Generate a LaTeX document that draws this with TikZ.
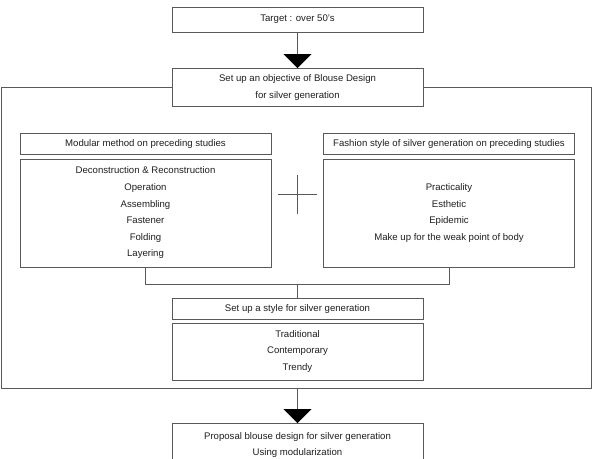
\documentclass[tikz,border=0pt]{standalone}
\usepackage{fontspec}
\setmainfont{Liberation Sans}
\usetikzlibrary{arrows.meta}
\definecolor{linegray}{gray}{0.35}
\definecolor{textgray}{gray}{0.12}
\tikzset{
  box/.style={draw=linegray,line width=0.8pt,fill=white,text=textgray,
    minimum width=251pt,inner sep=0pt,align=center,
    font=\fontsize{9.6}{16.6}\selectfont},
  link/.style={draw=linegray,line width=0.8pt},
  bigarrow/.style={link,-{Triangle[length=14pt,width=28pt,color=black]}}
}

\begin{document}
\begin{tikzpicture}[x=1pt,y=-1pt]
  \useasboundingbox (0,0) rectangle (594,458);
  % Outer frame
  \draw[link] (1,87.3) rectangle (591,388.7);
  \coordinate (framebot) at (297.5,388.7);
  % Top
  \node[box,minimum height=25pt] (target) at (297.5,19.5) {Target : over 50's};
  \node[box,minimum height=37.5pt] (objective) at (297.5,87.3)
    {Set up an objective of Blouse Design\\for silver generation};
  \draw[bigarrow] (target.south) -- (objective.north);
  % Preceding studies
  \node[box,minimum height=21.5pt] (modhead) at (145.5,143.8) {Modular method on preceding studies};
  \node[box,minimum height=108pt] (modbody) at (145.5,213)
    {Deconstruction \& Reconstruction\\Operation\\Assembling\\Fastener\\Folding\\Layering};
  \node[box,minimum height=21.5pt] (fashead) at (449,143.8) {Fashion style of silver generation on preceding studies};
  \node[box,minimum height=108pt] (fasbody) at (449,213)
    {Practicality\\Esthetic\\Epidemic\\Make up for the weak point of body};
  % Plus
  \coordinate (plus) at (297.5,194.7);
  \draw[link] (plus) ++(-19.5,0) -- ++(39,0);
  \draw[link] (plus) ++(0,-19.3) -- ++(0,38.6);
  % Style
  \node[box,minimum height=21.3pt] (stylehead) at (297.5,308.7) {Set up a style for silver generation};
  \node[box,minimum height=57pt] (stylebody) at (297.5,351.5)
    {Traditional\\Contemporary\\Trendy};
  \coordinate (join) at (297.5,284.7);
  \draw[link] (modbody.south) |- (join) -| (fasbody.south);
  \draw[link] (join) -- (stylehead.north);
  % Proposal
  \node[box,minimum height=43pt] (proposal) at (297.5,445)
    {Proposal blouse design for silver generation\\Using modularization};
  \draw[bigarrow] (framebot) -- (proposal.north);
\end{tikzpicture}
\end{document}
